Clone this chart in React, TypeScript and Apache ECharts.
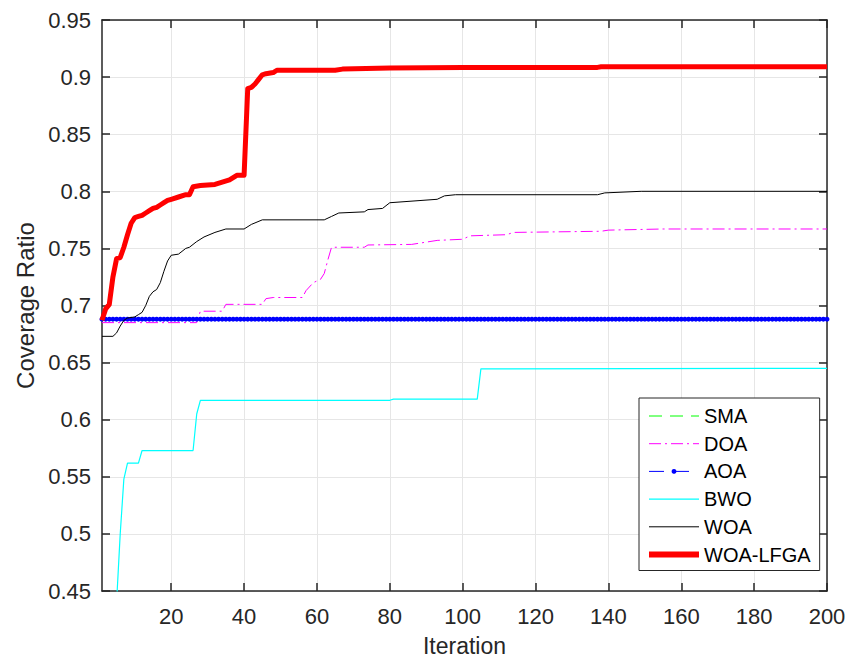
import React, { useEffect, useRef } from "react";
import * as echarts from "echarts";

// Iterations of the run and the value axis ticks
const ITER_MIN = 1;
const ITER_MAX = 200;
const xTicks = [20, 40, 60, 80, 100, 120, 140, 160, 180, 200];

// Coverage ratio curves, as [iteration, coverage] break points
const smaCurve: [number, number][] = [
  [1, 0.688],
  [200, 0.688],
];

const doaCurve: [number, number][] = [
  [1, 0.685], [27, 0.685], [28, 0.695], [34, 0.695], [35, 0.701], [45, 0.701],
  [46, 0.706], [48, 0.707], [56, 0.707], [57, 0.713], [59, 0.72], [61, 0.723],
  [62, 0.728], [63, 0.74], [64, 0.751], [73, 0.751], [74, 0.753], [86, 0.7535],
  [93, 0.757], [100, 0.758], [102, 0.761], [112, 0.762], [114, 0.764],
  [138, 0.765], [140, 0.766], [155, 0.767], [200, 0.767],
];

// AOA stays at the same coverage on every iteration
const aoaValue = 0.688;
const aoaCurve: [number, number][] = Array.from(
  { length: ITER_MAX - ITER_MIN + 1 },
  (_, i) => [ITER_MIN + i, aoaValue]
);

const bwoCurve: [number, number][] = [
  [1, 0.31], [2, 0.34], [3, 0.37], [4, 0.40], [5, 0.44], [6, 0.50], [7, 0.548],
  [8, 0.562], [11, 0.562], [12, 0.573], [26, 0.573], [27, 0.605], [28, 0.617],
  [80, 0.617], [81, 0.618], [104, 0.618], [105, 0.6445], [200, 0.645],
];

const woaCurve: [number, number][] = [
  [1, 0.673], [4, 0.673], [5, 0.676], [6, 0.682], [7, 0.687], [8, 0.689],
  [10, 0.69], [11, 0.692], [12, 0.694], [13, 0.7], [14, 0.708], [15, 0.712],
  [16, 0.714], [17, 0.72], [18, 0.73], [19, 0.739], [20, 0.744], [22, 0.745],
  [24, 0.75], [25, 0.751], [27, 0.756], [29, 0.76], [32, 0.764], [35, 0.767],
  [40, 0.767], [42, 0.771], [45, 0.775], [62, 0.775], [64, 0.778], [66, 0.781],
  [73, 0.782], [74, 0.784], [78, 0.785], [80, 0.79], [93, 0.793], [95, 0.796],
  [98, 0.797], [137, 0.797], [139, 0.7986], [149, 0.8], [200, 0.8],
];

const woaLfgaCurve: [number, number][] = [
  [1, 0.687], [2, 0.697], [3, 0.701], [4, 0.725], [5, 0.741], [6, 0.742],
  [7, 0.751], [8, 0.762], [9, 0.772], [10, 0.777], [11, 0.778], [12, 0.779],
  [13, 0.781], [14, 0.783], [15, 0.785], [16, 0.786], [17, 0.788], [18, 0.79],
  [19, 0.792], [20, 0.793], [22, 0.795], [24, 0.797], [25, 0.797], [26, 0.804],
  [28, 0.805], [32, 0.806], [34, 0.808], [36, 0.81], [38, 0.814], [40, 0.814],
  [41, 0.89], [42, 0.891], [43, 0.894], [44, 0.898], [45, 0.902], [46, 0.903],
  [48, 0.904], [49, 0.906], [65, 0.906], [67, 0.907], [80, 0.908],
  [100, 0.9085], [137, 0.9085], [138, 0.909], [200, 0.909],
];

const FONT = "'Liberation Sans', Arial, Helvetica, sans-serif";
const INK = "#262626";

// Legend rows: only AOA carries a point marker in its key
const lineOnlyKey = { opacity: 0 };
const legendData = [
  { name: "SMA", itemStyle: lineOnlyKey, lineStyle: { width: 1 } },
  { name: "DOA", itemStyle: lineOnlyKey, lineStyle: { width: 1 } },
  { name: "AOA", lineStyle: { width: 1 } },
  { name: "BWO", itemStyle: lineOnlyKey, lineStyle: { width: 1.2 } },
  { name: "WOA", itemStyle: lineOnlyKey, lineStyle: { width: 1 } },
  { name: "WOA-LFGA", itemStyle: lineOnlyKey, lineStyle: { width: 6 } },
];

export default function App() {
  const ref = useRef<HTMLDivElement>(null);

  useEffect(() => {
    if (!ref.current) return;
    const chart = echarts.init(ref.current, undefined, { renderer: "svg" });

    const tickLabel = { color: INK, fontSize: 22, fontFamily: FONT };
    const axisLine = { show: true, lineStyle: { color: INK, width: 1.5 } };
    const gridLine = { show: true, lineStyle: { color: "#e6e6e6", width: 1 } };
    const tickStyle = { color: INK, width: 1.5 };

    chart.setOption({
      animation: false,
      backgroundColor: "#ffffff",
      textStyle: { fontFamily: FONT },
      grid: {
        left: 102,
        right: 19,
        top: 20,
        bottom: 68,
        containLabel: false,
        outerBoundsMode: "none",
      },
      legend: {
        orient: "vertical",
        left: 639,
        top: 398,
        padding: [8, 9, 6, 7],
        itemWidth: 50,
        itemHeight: 6,
        itemGap: 7.7,
        backgroundColor: "#ffffff",
        borderColor: INK,
        borderWidth: 1,
        borderRadius: 0,
        textStyle: { color: "#000000", fontSize: 20, fontFamily: FONT },
        data: legendData,
      },
      xAxis: [
        {
          type: "value",
          min: ITER_MIN,
          max: ITER_MAX,
          name: "Iteration",
          nameLocation: "middle",
          nameGap: 43,
          nameTextStyle: { color: INK, fontSize: 23, fontFamily: FONT },
          axisLine,
          axisTick: { show: true, inside: true, length: 8, customValues: xTicks, lineStyle: tickStyle },
          axisLabel: { ...tickLabel, margin: 14, customValues: xTicks },
          splitLine: gridLine,
        },
        {
          type: "value",
          position: "top",
          min: ITER_MIN,
          max: ITER_MAX,
          axisLine,
          axisTick: { show: true, inside: true, length: 8, customValues: xTicks, lineStyle: tickStyle },
          axisLabel: { show: false },
          splitLine: { show: false },
        },
      ],
      yAxis: [
        {
          type: "value",
          min: 0.45,
          max: 0.95,
          interval: 0.05,
          name: "Coverage Ratio",
          nameLocation: "middle",
          nameRotate: 90,
          nameGap: 57,
          nameTextStyle: { color: INK, fontSize: 24, fontFamily: FONT },
          axisLine,
          axisTick: { show: true, inside: true, length: 8, lineStyle: tickStyle },
          axisLabel: {
            ...tickLabel,
            margin: 11,
            formatter: (v: number) => String(parseFloat(v.toFixed(2))),
          },
          splitLine: gridLine,
        },
        {
          type: "value",
          position: "right",
          min: 0.45,
          max: 0.95,
          interval: 0.05,
          axisLine,
          axisTick: { show: true, inside: true, length: 8, lineStyle: tickStyle },
          axisLabel: { show: false },
          splitLine: { show: false },
        },
      ],
      series: [
        {
          name: "SMA",
          type: "line",
          data: smaCurve,
          symbol: "none",
          color: "#00ff00",
          lineStyle: { color: "#00ff00", width: 1, type: [13, 8] },
          z: 2,
        },
        {
          name: "DOA",
          type: "line",
          data: doaCurve,
          symbol: "none",
          color: "#ff00ff",
          lineStyle: { color: "#ff00ff", width: 1, type: [12, 4, 2, 4] },
          z: 3,
        },
        {
          name: "AOA",
          type: "line",
          data: aoaCurve,
          symbol: "circle",
          symbolSize: 5,
          showSymbol: true,
          color: "#0000ff",
          itemStyle: { color: "#0000ff", borderWidth: 0 },
          lineStyle: { color: "#0000ff", width: 1, type: [15, 10] },
          z: 4,
        },
        {
          name: "BWO",
          type: "line",
          data: bwoCurve,
          symbol: "none",
          color: "#00ffff",
          lineStyle: { color: "#00ffff", width: 1.2 },
          z: 5,
        },
        {
          name: "WOA",
          type: "line",
          data: woaCurve,
          symbol: "none",
          color: "#000000",
          lineStyle: { color: "#000000", width: 1 },
          z: 6,
        },
        {
          name: "WOA-LFGA",
          type: "line",
          data: woaLfgaCurve,
          symbol: "none",
          color: "#ff0000",
          lineStyle: { color: "#ff0000", width: 5, join: "round" },
          z: 7,
        },
      ],
    });

    return () => chart.dispose();
  }, []);

  return (
    <div
      ref={ref}
      style={{ position: "fixed", left: 0, top: 0, width: 846, height: 659, background: "#fff" }}
    />
  );
}
